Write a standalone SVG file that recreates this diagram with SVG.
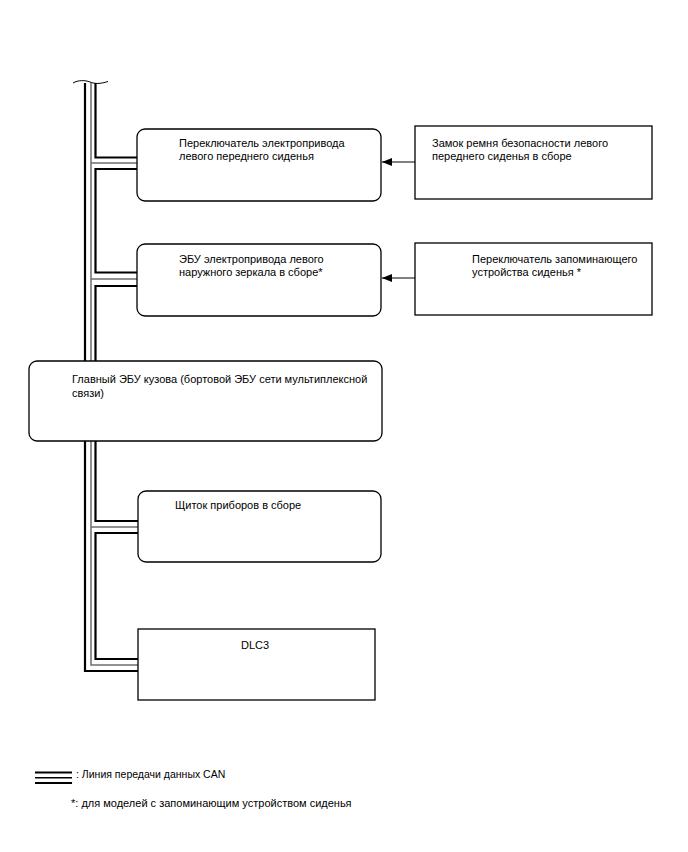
<svg xmlns="http://www.w3.org/2000/svg" width="688" height="852" viewBox="0 0 688 852">
<style>
  .t { font-family: "Liberation Sans", Arial, sans-serif; font-size: 11px; fill: #000; }
  .box { fill: #fff; stroke: #000; stroke-width: 1.3; }
  .bk { fill: none; stroke: #000; stroke-width: 2.2; }
  .gr { fill: none; stroke: #6e6e6e; stroke-width: 1.5; }
  .ln { fill: none; stroke: #000; stroke-width: 1; }
</style>
<defs>
  <marker id="ah" markerWidth="10" markerHeight="8" refX="10" refY="4" orient="auto" markerUnits="userSpaceOnUse">
    <path d="M0,0 L10,4 L0,8 Z" fill="#000"/>
  </marker>
</defs>
<rect width="688" height="852" fill="#fff"/>
<g id="connectors">
  <path class="ln" d="M73,83 C78,80 85,80 90,82 S100,84 108,81.5"/>
  <path class="bk" d="M85,83 V671 H138"/>
  <path class="gr" d="M91,83 V665 H138"/>
  <path class="gr" d="M91,163 H137 M91,279 H137 M91,527 H138"/>
  <path class="bk" d="M95.5,83 V157.5 H137 M137,169 H95.5 V272.5 H137 M137,286 H95.5 V521 H138 M138,533 H95.5 V659 H138"/>
  <path class="ln" d="M415,162 H382" marker-end="url(#ah)"/>
  <path class="ln" d="M415,278 H382" marker-end="url(#ah)"/>
</g>
<g id="node-seat-switch">
  <rect class="box" x="137" y="129" width="244" height="72" rx="8"/>
  <text class="t" x="179" y="146.5">Переключатель электропривода</text>
  <text class="t" x="179" y="159.5">левого переднего сиденья</text>
</g>
<g id="node-buckle">
  <rect class="box" x="415" y="126" width="237" height="73"/>
  <text class="t" x="432" y="146.5">Замок ремня безопасности левого</text>
  <text class="t" x="432" y="159.5">переднего сиденья в сборе</text>
</g>
<g id="node-mirror-ecu">
  <rect class="box" x="137" y="244" width="244" height="72" rx="8"/>
  <text class="t" x="179" y="262.5">ЭБУ электропривода левого</text>
  <text class="t" x="179" y="275.5">наружного зеркала в сборе*</text>
</g>
<g id="node-memory-switch">
  <rect class="box" x="415" y="243" width="237" height="72"/>
  <text class="t" x="472" y="262.5">Переключатель запоминающего</text>
  <text class="t" x="472" y="275.5">устройства сиденья *</text>
</g>
<g id="node-main-ecu">
  <rect class="box" x="29" y="361" width="353" height="80" rx="8"/>
  <text class="t" x="72" y="383">Главный ЭБУ кузова (бортовой ЭБУ сети мультиплексной</text>
  <text class="t" x="72" y="396.5">связи)</text>
</g>
<g id="node-meter">
  <rect class="box" x="138" y="491" width="243" height="71" rx="8"/>
  <text class="t" x="175" y="508.5">Щиток приборов в сборе</text>
</g>
<g id="node-dlc3">
  <rect class="box" x="138" y="629" width="237" height="71"/>
  <text class="t" x="241" y="648.5">DLC3</text>
</g>
<g id="legend">
  <path d="M35,772.5 H72 M35,783 H72" stroke="#000" stroke-width="2.2" fill="none"/>
  <path d="M35,777.7 H72" stroke="#000" stroke-width="1.5" fill="none"/>
  <text class="t" x="76" y="777.5" style="font-size:10.5px">: Линия передачи данных CAN</text>
  <text class="t" x="71" y="807">*: для моделей с запоминающим устройством сиденья</text>
</g>
</svg>
